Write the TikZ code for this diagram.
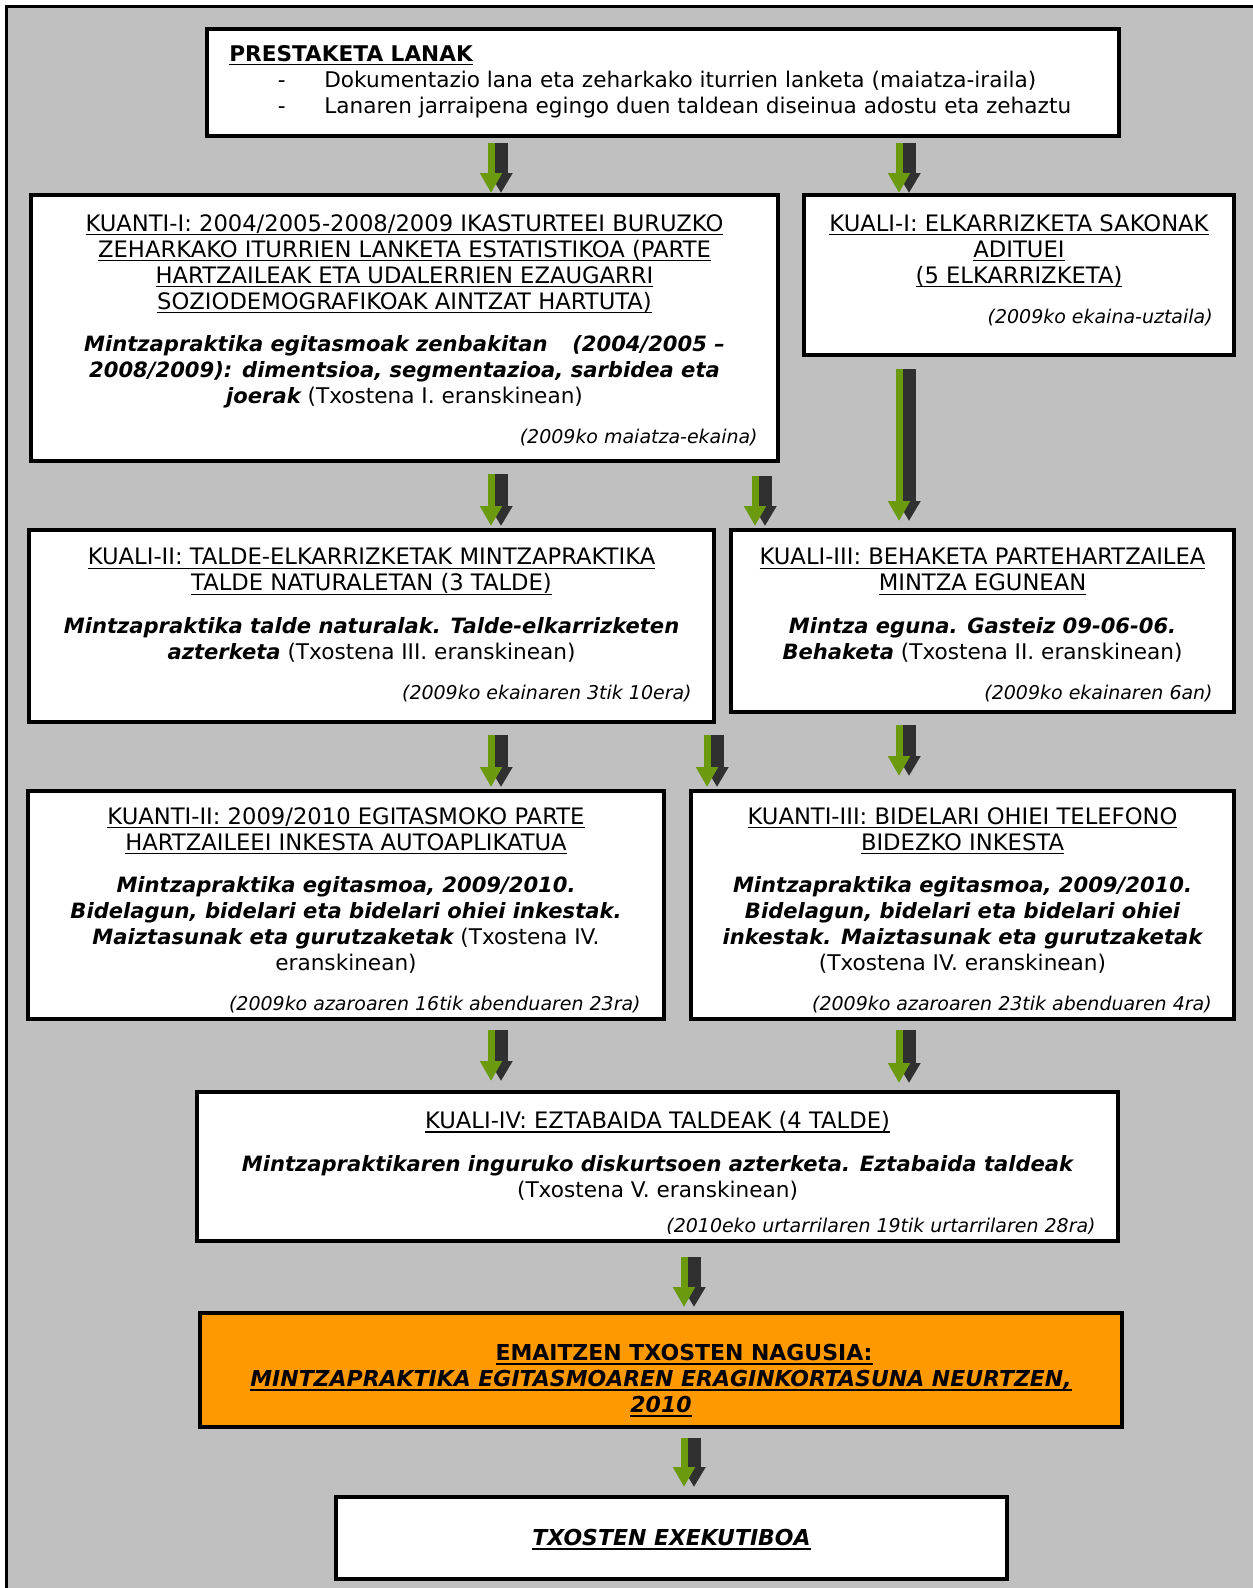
\documentclass[tikz,border=0pt]{standalone}
\usepackage{fontspec}
\setmainfont{DejaVu Sans}
\usetikzlibrary{arrows.meta,fit}
\definecolor{bggray}{HTML}{C0C0C0}
\definecolor{agreen}{HTML}{6B9A0E}
\definecolor{ashadow}{HTML}{303030}
\definecolor{resorange}{HTML}{FF9900}
\newcommand\boxfont{\fontsize{12.3}{14.8}\selectfont}
\newcommand\uln[1]{\setbox0\hbox{#1}\rlap{\rule[-2.3pt]{\wd0}{0.75pt}}\box0}
\newcommand\ttl[1]{\uln{\fontsize{12.9}{14.8}\selectfont #1}}
\newcommand\bi[1]{{\fontsize{12}{14.8}\selectfont\bfseries\itshape #1}}

\begin{document}
\begin{tikzpicture}
[
x=0.02cm,y=-0.02cm,
box/.style={draw,line width=0.08cm,fill=white,inner sep=0pt,outer sep=0pt},
title/.style={align=center,anchor=north,inner sep=0pt,font=\boxfont},
date/.style={anchor=base east,inner sep=0pt,font=\fontsize{10.8}{13}\selectfont\itshape},
garrow/.style 2 args={draw=agreen,line width=0.14cm,
            -{Triangle[width=0.42cm,length=0.4cm]},
            shorten <=#1,shorten >=#2,
            preaction={draw=ashadow,line width=0.28cm,
                        -{Triangle[width=0.44cm,length=0.4cm]},
                        transform canvas={xshift=0.2cm}}
},
]
\useasboundingbox (0,0) rectangle (1253,1588);
\fill[bggray] (6.5,6.5) rectangle (1253,1588);
\draw[line width=0.06cm] (1253,6.5) -- (6.5,6.5) -- (6.5,1588);

%Place the nodes
\node[box,fit={(207,29) (1119,136)}] (prep) {};
\node[box,fit={(31,195) (778,461)}] (kt1) {};
\node[box,fit={(804,195) (1234,355)}] (kl1) {};
\node[box,fit={(29,530) (714,722)}] (kl2) {};
\node[box,fit={(731,530) (1234,712)}] (kl3) {};
\node[box,fit={(28,791) (664,1019)}] (kt2) {};
\node[box,fit={(691,791) (1234,1019)}] (kt3) {};
\node[box,fit={(197,1092) (1118,1241)}] (kl4) {};
\node[box,fill=resorange,fit={(200,1313) (1122,1427)}] (res) {};
\node[box,fit={(336,1497) (1007,1579)}] (exec) {};

%Texts of the boxes
\node[title,anchor=north west,align=left] (prept) at (229,45) {\textbf{\uln{PRESTAKETA LANAK}}\\
\makebox[1.9cm][l]{\hspace{0.97cm}-}Dokumentazio lana eta zeharkako iturrien lanketa (maiatza-iraila)\\
\makebox[1.9cm][l]{\hspace{0.97cm}-}Lanaren jarraipena egingo duen taldean diseinua adostu eta zehaztu};

\node[title] (kt1t) at (404.5,214) {\ttl{KUANTI-I: 2004/2005-2008/2009 IKASTURTEEI BURUZKO}\\
\ttl{ZEHARKAKO ITURRIEN LANKETA ESTATISTIKOA (PARTE}\\
\ttl{HARTZAILEAK ETA UDALERRIEN EZAUGARRI}\\
\ttl{SOZIODEMOGRAFIKOAK AINTZAT HARTUTA)}\\[0.32cm]
\bi{Mintzapraktika egitasmoak zenbakitan\ \ \hspace{0.2cm}(2004/2005 –}\\
\bi{2008/2009): dimentsioa, segmentazioa, sarbidea eta}\\
\bi{joerak} (Txostena I. eranskinean)};
\node[date] (kt1d) at (758,443) {(2009ko maiatza-ekaina)};

\node[title] (kl1t) at (1019,214) {\ttl{KUALI-I: ELKARRIZKETA SAKONAK}\\
\ttl{ADITUEI}\\
\ttl{(5 ELKARRIZKETA)}};
\node[date] (kl1d) at (1213,323) {(2009ko ekaina-uztaila)};

\node[title] (kl2t) at (371.5,548) {\ttl{KUALI-II: TALDE-ELKARRIZKETAK MINTZAPRAKTIKA}\\
\ttl{TALDE NATURALETAN (3 TALDE)}\\[0.33cm]
\bi{Mintzapraktika talde naturalak. Talde-elkarrizketen}\\
\bi{azterketa} (Txostena III. eranskinean)};
\node[date] (kl2d) at (692,699) {(2009ko ekainaren 3tik 10era)};

\node[title] (kl3t) at (982.5,548) {\ttl{KUALI-III: BEHAKETA PARTEHARTZAILEA}\\
\ttl{MINTZA EGUNEAN}\\[0.33cm]
\bi{Mintza eguna. Gasteiz 09-06-06.}\\
\bi{Behaketa} (Txostena II. eranskinean)};
\node[date] (kl3d) at (1213,699) {(2009ko ekainaren 6an)};

\node[title] (kt2t) at (346,807) {\ttl{KUANTI-II: 2009/2010 EGITASMOKO PARTE}\\
\ttl{HARTZAILEEI INKESTA AUTOAPLIKATUA}\\[0.33cm]
\bi{Mintzapraktika egitasmoa, 2009/2010.}\\
\bi{Bidelagun, bidelari eta bidelari ohiei inkestak.}\\
\bi{Maiztasunak eta gurutzaketak} (Txostena IV.\\
eranskinean)};

\node[title] (kt3t) at (962.5,807) {\ttl{KUANTI-III: BIDELARI OHIEI TELEFONO}\\
\ttl{BIDEZKO INKESTA}\\[0.33cm]
\bi{Mintzapraktika egitasmoa, 2009/2010.}\\
\bi{Bidelagun, bidelari eta bidelari ohiei}\\
\bi{inkestak. Maiztasunak eta gurutzaketak}\\
(Txostena IV. eranskinean)};

\begin{scope}
\clip (28,791) rectangle (1234,1012);
\node[date] (kt2d) at (641,1010) {(2009ko azaroaren 16tik abenduaren 23ra)};
\node[date] (kt3d) at (1212,1010) {(2009ko azaroaren 23tik abenduaren 4ra)};
\end{scope}

\node[title] (kl4t) at (657.5,1111) {\ttl{KUALI-IV: EZTABAIDA TALDEAK (4 TALDE)}\\[0.33cm]
\bi{Mintzapraktikaren inguruko diskurtsoen azterketa. Eztabaida taldeak}\\
(Txostena V. eranskinean)};
\begin{scope}
\clip (197,1092) rectangle (1118,1233);
\node[date] (kl4d) at (1096,1232) {(2010eko urtarrilaren 19tik urtarrilaren 28ra)};
\end{scope}

\node[title,font=\fontsize{12.5}{14.8}\selectfont\bfseries] (rest) at (661,1344) {\hspace*{0.92cm}\uln{EMAITZEN TXOSTEN NAGUSIA:}\\
\uln{\itshape MINTZAPRAKTIKA EGITASMOAREN ERAGINKORTASUNA NEURTZEN,}\\
\uln{\itshape 2010}};

\node[title,font=\fontsize{12.5}{14.8}\selectfont\bfseries\itshape] (exect) at (671.5,1529) {\uln{TXOSTEN EXEKUTIBOA}};

%Draw the connections
\coordinate (xa) at (491,0);
\coordinate (xb) at (899,0);
\coordinate (xc) at (755,0);
\coordinate (xd) at (707,0);
\coordinate (xe) at (684,0);
\draw[garrow={0.14cm}{0.04cm}] (prep.south -| xa) -- (kt1.north -| xa);
\draw[garrow={0.14cm}{0.04cm}] (prep.south -| xb) -- (kl1.north -| xb);
\draw[garrow={0.28cm}{0.18cm}] (kl1.south -| xb) -- (kl3.north -| xb);
\draw[garrow={0.26cm}{0.08cm}] (kt1.south -| xa) -- (kl2.north -| xa);
\draw[garrow={0.3cm}{0.08cm}] (kt1.south -| xc) -- (kl3.north -| xc);
\draw[garrow={0.26cm}{0.08cm}] (kl2.south -| xa) -- (kt2.north -| xa);
\draw[garrow={0.26cm}{0.08cm}] (kl2.south -| xd) -- (kt3.north -| xd);
\draw[garrow={0.26cm}{0.3cm}] (kl3.south -| xb) -- (kt3.north -| xb);
\draw[garrow={0.22cm}{0.22cm}] (kt2.south -| xa) -- (kl4.north -| xa);
\draw[garrow={0.22cm}{0.18cm}] (kt3.south -| xb) -- (kl4.north -| xb);
\draw[garrow={0.32cm}{0.12cm}] (kl4.south -| xe) -- (res.north -| xe);
\draw[garrow={0.22cm}{0.2cm}] (res.south -| xe) -- (exec.north -| xe);
\end{tikzpicture}
\end{document}
